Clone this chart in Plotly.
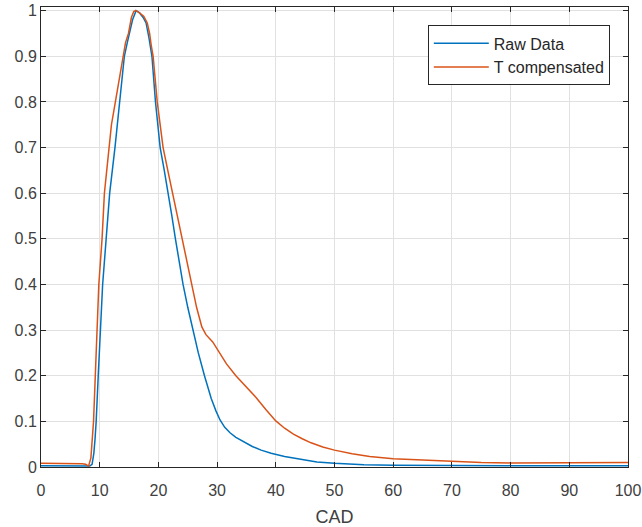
import plotly.graph_objects as go

# Raw Data (blue)
raw_x = [0, 2, 4, 6, 7, 7.8, 8.3, 8.7, 9.0, 9.2, 9.4, 9.75, 10.1, 10.5, 11.1, 11.7, 12.6, 13.4, 14.2,
         14.7, 15.1, 15.6, 16.2, 16.8, 17.4, 17.9, 18.4, 18.9, 19.5, 20.3, 21.0, 21.7, 22.3, 22.9,
         23.5, 24.2, 25.0, 25.9, 26.8, 27.85, 29.0, 29.8, 30.5, 31.3, 32.2, 33.2, 34.5, 36.0, 37.5,
         39.2, 41.5, 44.0, 47, 50, 55, 60, 70, 80, 90, 100]
raw_y = [0.003, 0.003, 0.003, 0.003, 0.003, 0.002, 0.002, 0.006, 0.03, 0.06, 0.1, 0.2, 0.3, 0.4, 0.5,
         0.6, 0.7, 0.8, 0.9, 0.93, 0.95, 0.98, 1.0, 0.995, 0.985, 0.973, 0.94, 0.9, 0.8, 0.7, 0.65,
         0.6, 0.55, 0.5, 0.45, 0.4, 0.35, 0.3, 0.25, 0.2, 0.15, 0.123, 0.103, 0.087, 0.075, 0.065,
         0.055, 0.045, 0.037, 0.03, 0.023, 0.017, 0.011, 0.008, 0.005, 0.004, 0.003, 0.003, 0.003,
         0.003]

# T compensated (orange)
tc_x = [0, 2, 4, 6, 7, 7.6, 8.1, 8.5, 8.75, 8.95, 9.25, 9.5, 9.85, 10.4, 10.8, 11.2, 11.6, 12.0,
        12.4, 12.8, 13.4, 13.95, 14.4, 14.9, 15.4, 15.8, 16.1, 16.5, 17.0, 17.5, 18.1, 18.5, 18.8,
        19.1, 19.8, 20.8, 21.6, 22.4, 23.2, 24.0, 24.8, 25.6, 26.5, 27.4, 28.1, 29.25, 30.4, 31.6,
        33.2, 34.9, 36.6, 38.3, 40.0, 41.5, 43.0, 44.5, 46.0, 48.0, 50, 53, 56, 60, 65, 70, 75, 80,
        85, 90, 95, 100]
tc_y = [0.008, 0.008, 0.008, 0.008, 0.007, 0.006, 0.002, 0.02, 0.06, 0.1, 0.2, 0.3, 0.4, 0.5, 0.6,
        0.65, 0.7, 0.75, 0.78, 0.81, 0.86, 0.9, 0.93, 0.95, 0.985, 0.998, 1.0, 0.998, 0.993, 0.988,
        0.973, 0.95, 0.922, 0.9, 0.8, 0.7, 0.65, 0.6, 0.55, 0.5, 0.45, 0.4, 0.35, 0.307, 0.29, 0.274,
        0.249, 0.226, 0.2, 0.177, 0.153, 0.126, 0.101, 0.085, 0.072, 0.062, 0.053, 0.044, 0.037,
        0.029, 0.023, 0.018, 0.015, 0.012, 0.010, 0.009, 0.009, 0.009, 0.010, 0.010]

x_ticks = [0, 10, 20, 30, 40, 50, 60, 70, 80, 90, 100]
y_ticks = [0, 0.1, 0.2, 0.3, 0.4, 0.5, 0.6, 0.7, 0.8, 0.9, 1]
y_tick_text = ["0", "0.1", "0.2", "0.3", "0.4", "0.5", "0.6", "0.7", "0.8", "0.9", "1"]

FONT = "Liberation Sans, Arial, Helvetica"

fig = go.Figure()
fig.add_trace(go.Scatter(x=raw_x, y=raw_y, mode="lines", name="Raw Data",
                         line=dict(color="#0072BD", width=1.5)))
fig.add_trace(go.Scatter(x=tc_x, y=tc_y, mode="lines", name="T compensated",
                         line=dict(color="#D95319", width=1.5)))

axis_common = dict(
    showline=True, linecolor="#262626", linewidth=1, mirror="ticks",
    ticks="inside", ticklen=5, tickcolor="#262626",
    showgrid=True, gridcolor="#e1e1e1", gridwidth=1, zeroline=False,
    automargin=False,
    tickfont=dict(family=FONT, size=16, color="#404040"),
)

fig.update_layout(
    width=642, height=527,
    margin=dict(l=41, r=14, t=7, b=60),
    paper_bgcolor="white", plot_bgcolor="white",
    xaxis=dict(range=[0, 100], tickvals=x_ticks, ticktext=[str(v) for v in x_ticks],
               ticklabelstandoff=9,
               title=dict(text="CAD", font=dict(family=FONT, size=18, color="#404040"),
                          standoff=12),
               **axis_common),
    yaxis=dict(range=[0, 1.008], tickvals=y_ticks, ticktext=y_tick_text, **axis_common),
    legend=dict(x=0.969, y=0.96, xanchor="right", yanchor="top",
                bgcolor="white", bordercolor="#262626", borderwidth=1,
                font=dict(family=FONT, size=16, color="#262626"),
                itemwidth=55, tracegroupgap=0),
    showlegend=True,
)

fig.write_html("out.html", config={"displayModeBar": False},
               post_script="document.body.style.margin='0px';")
